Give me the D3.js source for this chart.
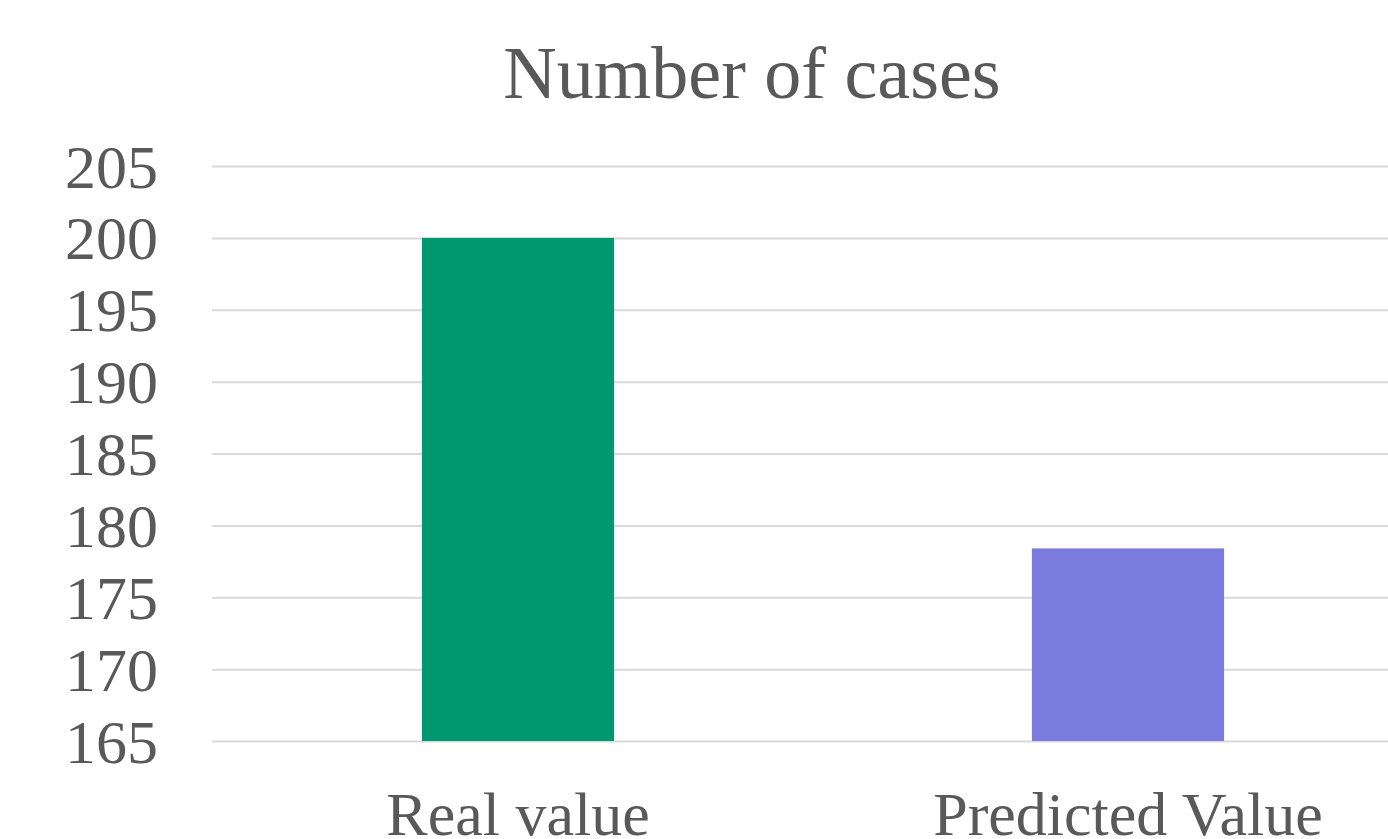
<!DOCTYPE html>
<html>
<head>
<meta charset="utf-8">
<script src="https://cdn.jsdelivr.net/npm/d3@7"></script>
<style>
  body { margin: 0; background: #fff; }
  text { font-family: "Liberation Serif", "Times New Roman", serif; fill: #595959; }
</style>
</head>
<body>
<div id="chart"></div>
<script>
const width = 1388;
const height = 839;

// data
const categories = ["Real value", "Predicted Value"];
const values = [200, 178.4];
const barColors = ["#009870", "#7B7BDE"];
const yTicks = [165, 170, 175, 180, 185, 190, 195, 200, 205];

//creating SVG
let svg = d3.select("#chart")
    .append("svg")
    .attr("width", width)
    .attr("height", height);

//creating scales
var xScale = d3.scaleBand()
    .domain(categories)
    .range([213, 1433])
    .paddingInner(0.685)
    .paddingOuter(0.3425);
var yScale = d3.scaleLinear()
    .domain([165, 205])
    .range([741, 166]);

//title
svg.append("text")
    .attr("x", 752)
    .attr("y", 98)
    .attr("text-anchor", "middle")
    .style("font-size", "74px")
    .text("Number of cases");

//gridlines
svg.append("g")
    .attr("transform", "translate(212,0)")
    .call(d3.axisLeft(yScale).tickValues(yTicks).tickSize(-(width - 212)).tickFormat(""))
    .call(g => g.select(".domain").remove())
    .selectAll("line")
    .attr("stroke", "#D9D9D9")
    .attr("stroke-width", 2);

//y axis labels
let yAxis = svg.append("g")
    .attr("transform", "translate(158,0)")
    .call(d3.axisLeft(yScale).tickValues(yTicks).tickSize(0).tickPadding(0))
    .call(g => g.select(".domain").remove());
yAxis.selectAll("text")
    .style("font-size", "62px")
    .attr("dy", "0.34em")
    .style("fill", "#595959");

//bars
svg.selectAll(".bar")
    .data(values)
    .enter()
    .append("rect")
    .attr("class", "bar")
    .attr("x", (d, i) => xScale(categories[i]))
    .attr("width", xScale.bandwidth())
    .attr("y", d => yScale(d))
    .attr("height", d => yScale(165) - yScale(d))
    .attr("fill", (d, i) => barColors[i]);

//x axis labels
let xAxis = svg.append("g")
    .attr("transform", "translate(0,741)")
    .call(d3.axisBottom(xScale).tickSize(0).tickPadding(0))
    .call(g => g.select(".domain").remove());
xAxis.selectAll("text")
    .style("font-size", "62px")
    .attr("y", 94)
    .attr("dy", 0)
    .style("fill", "#595959");
</script>
</body>
</html>
